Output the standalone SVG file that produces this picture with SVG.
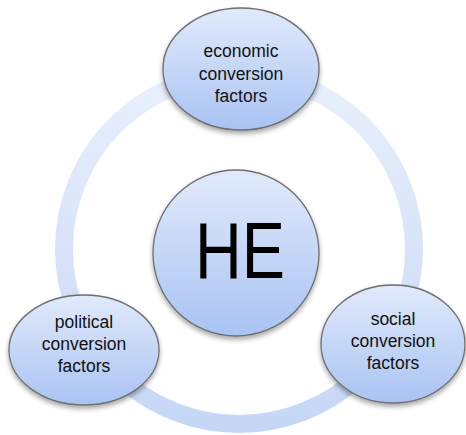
<svg xmlns="http://www.w3.org/2000/svg" width="466" height="435" viewBox="0 0 466 435">
<defs>
<linearGradient id="nodeFill" x1="0" y1="0" x2="0" y2="1">
<stop offset="0" stop-color="#e1eafb"/>
<stop offset="1" stop-color="#a9c3f3"/>
</linearGradient>
<linearGradient id="ringFill" x1="0" y1="0" x2="0" y2="1">
<stop offset="0" stop-color="#e9f0fc"/>
<stop offset="1" stop-color="#c6d7f6"/>
</linearGradient>
<filter id="shadow" x="-20%" y="-20%" width="140%" height="150%">
<feGaussianBlur in="SourceAlpha" stdDeviation="2.5"/>
<feOffset dx="0" dy="3" result="b"/>
<feComponentTransfer><feFuncA type="linear" slope="0.35"/></feComponentTransfer>
<feMerge><feMergeNode/><feMergeNode in="SourceGraphic"/></feMerge>
</filter>
</defs>
<style>
.node{fill:url(#nodeFill);stroke:#6e6e6e;stroke-width:1.3;filter:url(#shadow)}
.lbl{font-family:"Liberation Sans",Arial,sans-serif;font-size:17.5px;fill:#111;text-anchor:middle}
.big{font-family:"Liberation Sans",Arial,sans-serif;font-size:80px;fill:#000;text-anchor:middle}
</style>
<g id="connectors">
<circle cx="239" cy="249" r="175" fill="none" stroke="url(#ringFill)" stroke-width="18"/>
</g>
<g id="node-he">
<circle class="node" cx="236" cy="253" r="83"/>
<text class="big" x="240" y="278" textLength="90" lengthAdjust="spacingAndGlyphs">HE</text>
</g>
<g id="node-economic">
<ellipse class="node" cx="241" cy="69" rx="78" ry="61"/>
<text class="lbl" x="241" y="57">economic</text>
<text class="lbl" x="241" y="80">conversion</text>
<text class="lbl" x="241" y="102">factors</text>
</g>
<g id="node-political">
<ellipse class="node" cx="84" cy="350" rx="75" ry="55"/>
<text class="lbl" x="84" y="328">political</text>
<text class="lbl" x="84" y="350">conversion</text>
<text class="lbl" x="84" y="372">factors</text>
</g>
<g id="node-social">
<ellipse class="node" cx="393" cy="344" rx="72" ry="59"/>
<text class="lbl" x="393" y="325">social</text>
<text class="lbl" x="393" y="347">conversion</text>
<text class="lbl" x="393" y="369">factors</text>
</g>
</svg>
